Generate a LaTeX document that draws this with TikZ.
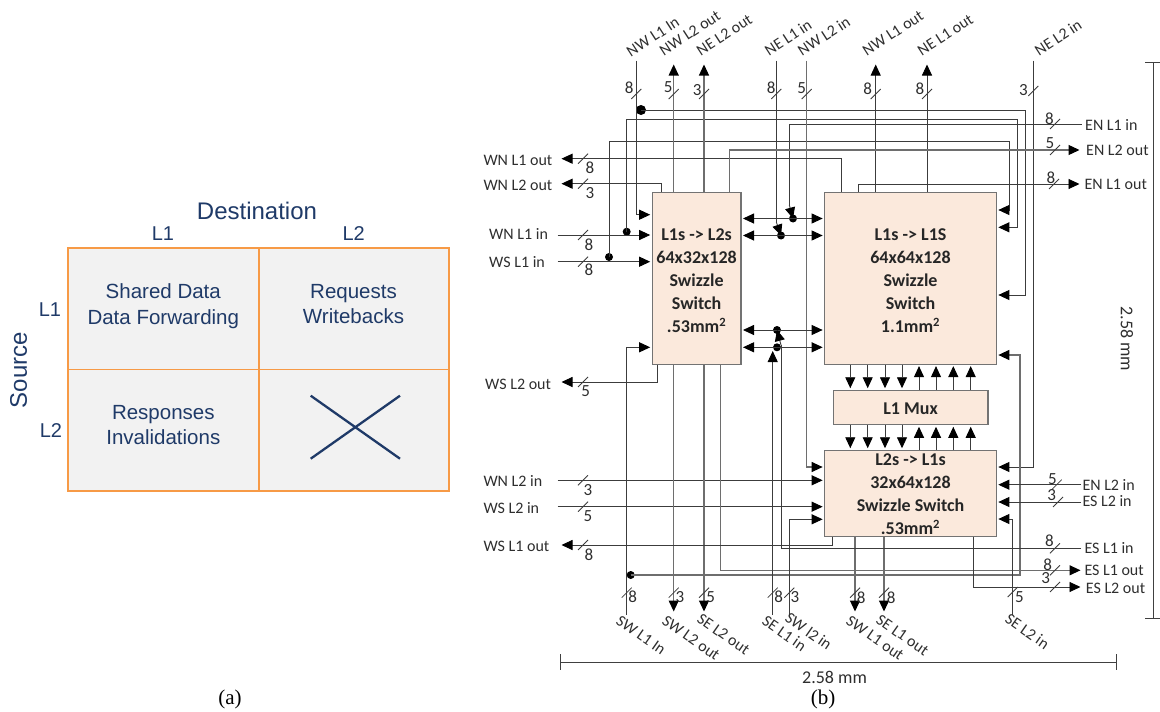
\documentclass[tikz,border=0pt]{standalone}
\usepackage{fontspec}
\setmainfont{Carlito}
\newfontfamily\arialfont{Liberation Sans}
\newfontfamily\timesfont{Liberation Serif}
\usetikzlibrary{arrows.meta,calc}
\definecolor{navy}{HTML}{1F3A68}
\definecolor{orng}{HTML}{F79A46}
\definecolor{cellbg}{HTML}{F2F2F2}
\definecolor{boxbg}{HTML}{FBE9DC}
\definecolor{ink}{HTML}{2E2E2E}
\definecolor{wirec}{HTML}{3C3C3C}
\definecolor{busc}{HTML}{6E6E6E}
\tikzset{
  arw/.style={-{Triangle[length=11pt,width=10pt,color=black,fill=black]},shorten >=1.5pt},
  arwboth/.style={{Triangle[length=11pt,width=10pt,color=black,fill=black]}-{Triangle[length=11pt,width=10pt,color=black,fill=black]},shorten >=1.5pt,shorten <=1.5pt},
  wire/.style={draw=wirec,line width=0.9pt},
  bus/.style={draw=busc,line width=1.2pt},
  swbox/.style={draw=black!55,line width=1.1pt,fill=boxbg,font=\fontsize{18}{23}\bfseries\selectfont,text=black!85,align=center,inner sep=0pt},
  swtxt/.style={font=\fontsize{18}{23}\bfseries\selectfont,text=black!85,align=center,inner sep=0pt},
  dotmark/.style={circle,fill=black,inner sep=0pt,minimum size=8pt},
  tag/.style={font=\fontsize{16}{19}\selectfont,text=ink,inner sep=0pt,anchor=west},
  uptag/.style={tag,rotate=33},
  downtag/.style={tag,rotate=-35},
  num/.style={font=\fontsize{17}{19}\selectfont,text=ink,inner sep=0pt},
  tickmark/.style={draw=wirec,line width=0.8pt},
  cell/.style={draw=orng,line width=1pt,fill=cellbg,minimum width=189.8pt,minimum height=121.2pt,inner sep=0pt},
  celltxt/.style={font=\arialfont\fontsize{20.5}{25.5}\selectfont,text=navy,align=center,inner sep=0pt},
  axistxt/.style={font=\arialfont\fontsize{24}{28}\selectfont,text=navy,inner sep=0pt},
  hdr/.style={font=\arialfont\fontsize{20}{24}\selectfont,text=navy,inner sep=0pt},
  captiontxt/.style={font=\timesfont\fontsize{21}{24}\selectfont,text=black,inner sep=0pt},
  dimline/.style={draw=black!75,line width=0.8pt},
  dimtxt/.style={font=\fontsize{18}{21}\selectfont,text=ink,inner sep=0pt}
}
\newcounter{wtcount}
% tick on a wire at (x,y), number at (lx,ly)
\newcommand{\wt}[5]{\stepcounter{wtcount}%
  \coordinate (tk\thewtcount) at (#1,#2);
  \draw[tickmark] ($(tk\thewtcount)+(-5,5)$) -- ($(tk\thewtcount)+(5,-5)$);
  \node[num] (nm\thewtcount) at (#3,#4) {#5};}
\begin{document}
\begin{tikzpicture}[x=1pt,y=-1pt]
\useasboundingbox (0,0) rectangle (1160,712);
% ---------- (a) table
\node[cell] (c11) at (163.3,309) {};
\node[cell] (c12) at (353.2,309) {};
\node[cell] (c21) at (163.3,430.2) {};
\node[cell] (c22) at (353.2,430.2) {};
\draw[orng,line width=1.1pt] (c21.north west) -- (c22.north east);
\draw[orng,line width=2pt] (c11.north west) rectangle (c22.south east);
\draw[orng,line width=1.6pt] (c11.north east) -- (c21.south east);
\node[celltxt] (t11) at (163.3,306) {Shared Data\\Data Forwarding};
\node[celltxt] (t12) at (353.5,304) {Requests\\Writebacks};
\node[celltxt] (t21) at (163.3,425) {Responses\\Invalidations};
\draw[navy,line width=2.3pt] (310.7,395.7) -- (400,458.7);
\draw[navy,line width=2.3pt] (310.7,458.7) -- (400,395.7);
\node[axistxt] (dest) at (257,211) {Destination};
\node[axistxt,rotate=90] (src) at (18.5,370) {Source};
\node[hdr] (h1) at (163,234) {L1};
\node[hdr] (h2) at (353.7,234) {L2};
\node[hdr] (v1) at (50,310) {L1};
\node[hdr] (v2) at (51,431) {L2};
\node[captiontxt] (capa) at (230,699) {(a)};
\node[captiontxt] (capb) at (823,699) {(b)};
% ---------- (b) boxes
\node[swbox,minimum width=88.7pt,minimum height=171.6pt] (boxa) at (696.6,278.5) {};
\node[swtxt] (boxatxt) at (696.6,281) {L1s -> L2s\\64x32x128\\Swizzle\\Switch\\.53mm\textsuperscript{2}};
\node[swbox,minimum width=171.6pt,minimum height=171.3pt] (boxb) at (910.5,278.4) {};
\node[swtxt] (boxbtxt) at (910.5,281) {L1s -> L1S\\64x64x128\\Swizzle\\Switch\\1.1mm\textsuperscript{2}};
\node[swbox,minimum width=154.7pt,minimum height=34.4pt] (mux) at (910.6,407.5) {};
\node[swtxt] (muxtxt) at (910.6,408.5) {L1 Mux};
\node[swbox,minimum width=171.6pt,minimum height=86pt] (boxc) at (910.5,493.3) {};
\node[swtxt] (boxctxt) at (910.5,494) {L2s -> L1s\\32x64x128\\Swizzle Switch\\.53mm\textsuperscript{2}};
% ---------- free ends: top
\coordinate (nwlA) at (636.3,60.7);
\coordinate (nwoB) at (673.7,63);
\coordinate (neoB) at (704,63);
\coordinate (nelA) at (776.3,60.7);
\coordinate (nwlB) at (806.7,60.7);
\coordinate (nwoA) at (875.7,63);
\coordinate (neoA) at (927,63);
\coordinate (nelB) at (1033.3,60.7);
% left
\coordinate (wnoA) at (560,158.7);
\coordinate (wnoB) at (560,183.7);
\coordinate (wniA) at (557.7,235);
\coordinate (wsiA) at (557.7,261.7);
\coordinate (wsoB) at (560,382);
\coordinate (wniB) at (557.7,480.3);
\coordinate (wsiB) at (557.7,506.7);
\coordinate (wsoA) at (560,545);
% right
\coordinate (eniA) at (1081.7,124);
\coordinate (enoB) at (1081,150);
\coordinate (enoA) at (1081,184);
\coordinate (eniB) at (1081,484.7);
\coordinate (esiB) at (1081,502);
\coordinate (esiA) at (1081,548.3);
\coordinate (esoA) at (1082,570.3);
\coordinate (esoB) at (1082,587);
% bottom
\coordinate (swiA) at (626.7,615);
\coordinate (swoB) at (673.7,613);
\coordinate (seoB) at (704,613);
\coordinate (seiA) at (772.7,615);
\coordinate (swiB) at (789.3,615);
\coordinate (swoA) at (855,613);
\coordinate (seoA) at (884,613);
\coordinate (seiB) at (1012.7,615);
% ---------- junction dots
\node[dotmark,minimum size=10pt] (j1) at (641,110) {};
\node[dotmark] (j2) at (626.7,231.7) {};
\node[dotmark] (j3) at (609,257) {};
\node[dotmark] (j4) at (793,218.5) {};
\node[dotmark] (j5) at (781,235.5) {};
\node[dotmark] (j6) at (777,330) {};
\node[dotmark] (j7) at (777,347.3) {};
\node[dotmark] (j8) at (630.7,575) {};
% ---------- NW L1 in and branches
\draw[wire,arw] (nwlA) |- (boxa.west |- 0,214.7);
\draw[wire,arw] (j1.center) -- (1025.7,110) |- (boxb.east |- 0,295);
\draw[wire,arw] (j2.center) -- (626.7,119.3) -- (1017.7,119.3) |- (boxb.east |- 0,227.3);
\draw[wire,arw] (j3.center) -- (609,141.7) -- (1009.3,141.7) |- (boxb.east |- 0,210);
% EN L1 in
\draw[wire] (eniA) -- (789.3,124) -- (789.3,205);
\draw[wire,arw,shorten >=0pt] (789.3,205) -- (j4.center);
% outputs on top
\draw[bus,arw] (boxa.north -| nwoB) -- (nwoB);
\draw[bus,arw] (boxa.north -| neoB) -- (neoB);
\draw[wire,arw] (boxb.north -| nwoA) -- (nwoA);
\draw[wire,arw] (boxb.north -| neoA) -- (neoA);
% top inputs
\draw[wire] (nelA) -- (776.3,222);
\draw[wire,arw,shorten >=0pt] (776.3,222) -- (j5.center);
\draw[bus,arw] (nwlB) |- (boxc.west |- 0,467);
\draw[wire,arw] (nelB) |- (boxc.east |- 0,467);
% left and right side outputs
\draw[wire,arw] (boxb.north -| 841,0) |- (wnoA);
\draw[wire,arw] (boxa.north -| 661.3,0) |- (wnoB);
\draw[bus,arw] (boxa.north -| 729.3,0) |- (enoB);
\draw[wire,arw] (boxb.north -| 858.3,0) |- (enoA);
\draw[wire,arw] (boxa.south -| 657.7,0) |- (wsoB);
% left inputs
\draw[wire,arw] (wniA) -- (boxa.west |- wniA);
\draw[wire,arw] (wsiA) -- (boxa.west |- wsiA);
\draw[wire,arw] (wniB) -- (boxc.west |- wniB);
\draw[wire,arw] (wsiB) -- (boxc.west |- wsiB);
% double arrows
\draw[wire,arwboth] (boxa.east |- 0,218.5) -- (boxb.west |- 0,218.5);
\draw[wire,arwboth] (boxa.east |- 0,235.5) -- (boxb.west |- 0,235.5);
\draw[wire,arwboth] (boxa.east |- 0,330) -- (boxb.west |- 0,330);
\draw[wire,arwboth] (boxa.east |- 0,347.3) -- (boxb.west |- 0,347.3);
% SW L1 in and branch
\draw[wire,arw] (swiA) |- (boxa.west |- 0,347.3);
\draw[bus,arw] (j8.center) -- (1020,575) |- (boxb.east |- 0,355);
% box A bottom outputs
\draw[bus,arw] (boxa.south -| swoB) -- (swoB);
\draw[bus,arw] (boxa.south -| seoB) -- (seoB);
\draw[bus,arw] (boxa.south -| 720.7,0) |- (esoA);
% box C bottom
\draw[wire,arw] (boxc.south -| 832.7,0) |- (wsoA);
\draw[bus,arw] (boxc.south -| swoA) -- (swoA);
\draw[bus,arw] (boxc.south -| seoA) -- (seoA);
\draw[wire,arw] (boxc.south -| 973.3,0) |- (esoB);
% ES L1 in
\draw[wire] (esiA) -- (781,548.3) -- (781,345);
\draw[wire,arw,shorten >=0pt] (781,345) -- (j6.center);
% SE, SW in from below
\draw[wire,arw,shorten >=0pt] (seiA) -- (772.7,351);
\draw[wire,arw] (swiB) |- (boxc.west |- 0,519.3);
\draw[wire,arw] (seiB) |- (boxc.east |- 0,519);
% right inputs to box C
\draw[wire,arw] (eniB) -- (boxc.east |- eniB);
\draw[wire,arw] (esiB) -- (boxc.east |- esiB);
% mux arrows
\foreach \x in {850.3,867.7,885,902}{
  \draw[wire,arw] (boxb.south -| \x,0) -- (mux.north -| \x,0);
  \draw[wire,arw] (mux.south -| \x,0) -- (boxc.north -| \x,0);}
\foreach \x in {919,936,953.3,970.7}{
  \draw[wire,arw] (mux.north -| \x,0) -- (boxb.south -| \x,0);
  \draw[wire,arw] (boxc.north -| \x,0) -- (mux.south -| \x,0);}
% ---------- ticks and numbers
\wt{636.3}{94}{629.3}{87.5}{8}
\wt{673.7}{94}{668.3}{87.5}{5}
\wt{704}{94}{697.3}{90}{3}
\wt{776.3}{94}{771.3}{88}{8}
\wt{806.7}{94}{801.7}{88}{5}
\wt{875.7}{94}{867.7}{89}{8}
\wt{927}{94}{920}{89}{8}
\wt{1033.3}{91}{1023.3}{90}{3}
\wt{1055}{124}{1049.3}{119}{8}
\wt{1055}{150}{1050}{143}{5}
\wt{1054}{184}{1051}{178}{8}
\wt{583}{158.7}{590}{167.7}{8}
\wt{583}{183.7}{590}{192.7}{3}
\wt{583}{235}{589}{245}{8}
\wt{583}{261.7}{589}{270}{8}
\wt{583}{382}{585.7}{391}{5}
\wt{583}{480.3}{588}{490}{3}
\wt{583}{506.7}{588}{515.7}{5}
\wt{583}{545}{589}{554.3}{8}
\wt{626.7}{592.7}{632.7}{597}{8}
\wt{673.7}{592.7}{680}{597}{3}
\wt{704}{592.7}{710.7}{597}{5}
\wt{772.7}{592.7}{778.7}{597}{8}
\wt{789.3}{592.7}{795}{597}{3}
\wt{855}{592.7}{861.3}{597.3}{8}
\wt{884}{592.7}{891.3}{597.3}{8}
\wt{1012.7}{592}{1019.3}{597}{5}
\wt{1056.7}{484.7}{1052.3}{479}{5}
\wt{1058}{502}{1051.7}{495.3}{3}
\wt{1055}{548.3}{1049.3}{541}{8}
\wt{1055}{570.3}{1047.7}{565}{8}
\wt{1055}{587}{1045.7}{578.3}{3}
% ---------- names
\node[tag] (lwnoA) at (483.3,160) {WN L1 out};
\node[tag] (lwnoB) at (483.3,185) {WN L2 out};
\node[tag] (lwniA) at (489,234.3) {WN L1 in};
\node[tag] (lwsiA) at (489,261.7) {WS L1 in};
\node[tag] (lwsoB) at (485,384) {WS L2 out};
\node[tag] (lwniB) at (483.3,481) {WN L2 in};
\node[tag] (lwsiB) at (483.3,507.7) {WS L2 in};
\node[tag] (lwsoA) at (483.3,546) {WS L1 out};
\node[tag] (leniA) at (1085,125.3) {EN L1 in};
\node[tag] (lenoB) at (1086,150.7) {EN L2 out};
\node[tag] (lenoA) at (1084.3,184) {EN L1 out};
\node[tag] (leniB) at (1082.3,485.3) {EN L2 in};
\node[tag] (lesiB) at (1082.3,501) {ES L2 in};
\node[tag] (lesiA) at (1084.3,548.3) {ES L1 in};
\node[tag] (lesoA) at (1084.3,570.7) {ES L1 out};
\node[tag] (lesoB) at (1085.7,588.7) {ES L2 out};
\node[uptag] (lnwlA) at (628,53) {NW L1 In};
\node[uptag] (lnwoB) at (661,52) {NW L2 out};
\node[uptag] (lneoB) at (698,52) {NE L2 out};
\node[uptag] (lnelA) at (766,52) {NE L1 in};
\node[uptag] (lnwlB) at (799,52) {NW L2 in};
\node[uptag] (lnwoA) at (864,52) {NW L1 out};
\node[uptag] (lneoA) at (919,52) {NE L1 out};
\node[uptag] (lnelB) at (1036,52) {NE L2 in};
\node[downtag] (lswiA) at (618,619) {SW L1 In};
\node[downtag] (lswoB) at (664,619) {SW L2 out};
\node[downtag] (lseoB) at (699,617) {SE L2 out};
\node[downtag] (lseiA) at (764,619) {SE L1 in};
\node[downtag] (lswiB) at (787,616) {SW l2 in};
\node[downtag] (lswoA) at (848,619) {SW L1 out};
\node[downtag] (lseoA) at (878,618) {SE L1 out};
\node[downtag] (lseiB) at (1007,617) {SE L2 in};
% ---------- dimensions
\coordinate (dr1) at (1153.3,62.3);
\coordinate (dr2) at (1153.3,618.7);
\draw[dimline] (dr1) -- (dr2);
\draw[dimline] ($(dr1)+(-8,0)$) -- ($(dr1)+(6.7,0)$);
\draw[dimline] ($(dr2)+(-8,0)$) -- ($(dr2)+(6.7,0)$);
\node[dimtxt,rotate=-90] (dmr) at (1127,339) {2.58 mm};
\coordinate (db1) at (560.5,662);
\coordinate (db2) at (1116,662);
\draw[dimline] (db1) -- (db2);
\draw[dimline] ($(db1)+(0,-8)$) -- ($(db1)+(0,8)$);
\draw[dimline] ($(db2)+(0,-8)$) -- ($(db2)+(0,8)$);
\node[dimtxt] (dmb) at (834.5,677) {2.58 mm};
\end{tikzpicture}
\end{document}
